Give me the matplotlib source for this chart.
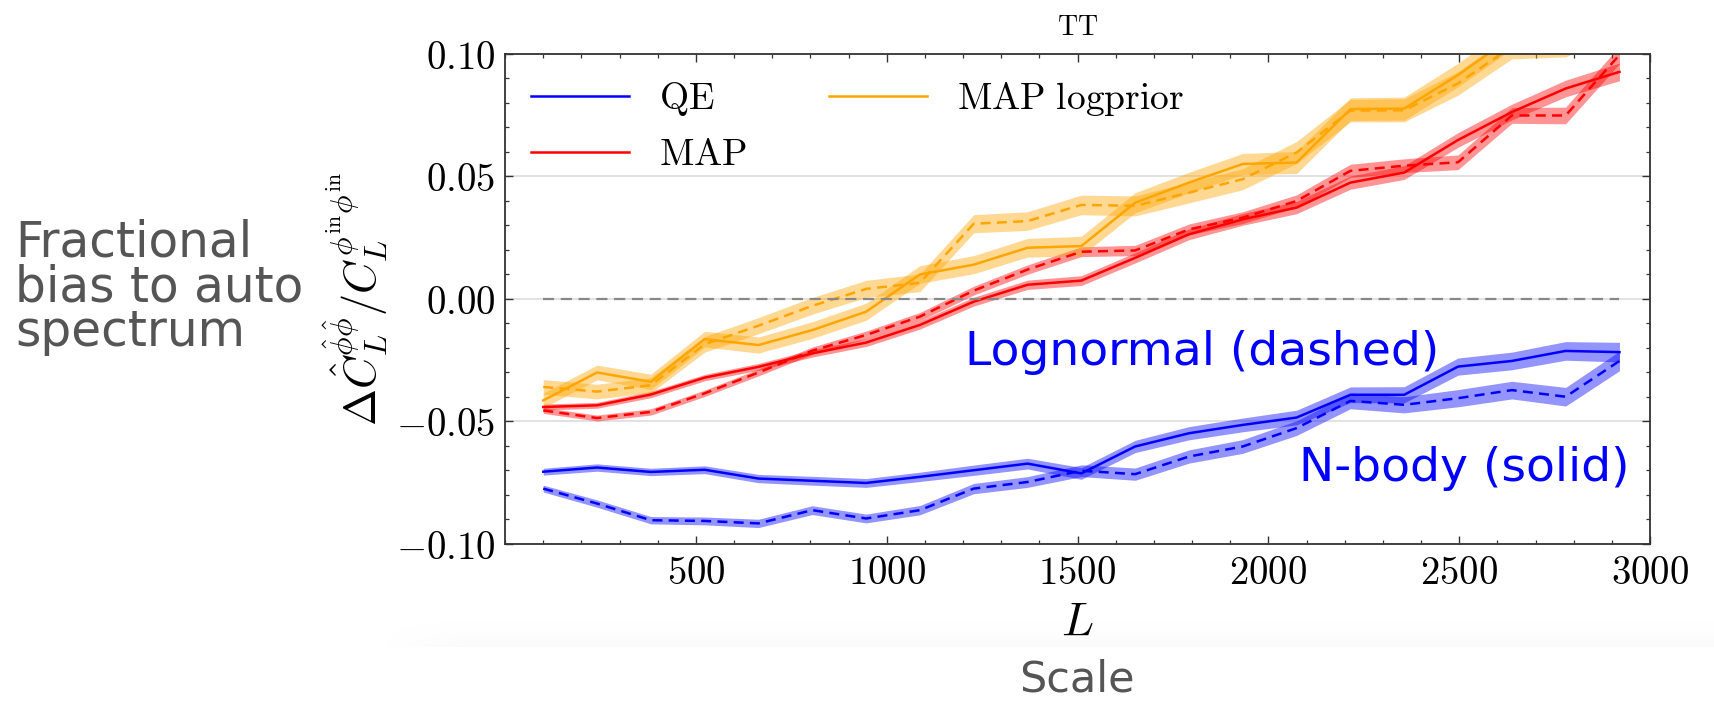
import numpy as np
import matplotlib.pyplot as plt
from matplotlib.ticker import MultipleLocator, FuncFormatter

plt.rcParams['mathtext.fontset'] = 'cm'
plt.rcParams['font.family'] = 'DejaVu Sans'

# multipole bin centres
ells = [100, 241, 382, 523, 664, 805, 946, 1087, 1228, 1369, 1510,
        1651, 1792, 1933, 2074, 2215, 2356, 2497, 2638, 2779, 2920]

# QE
qe_nbody = [-0.0705, -0.0688, -0.0706, -0.0697, -0.0733, -0.0742, -0.0751, -0.0726, -0.0699, -0.0672, -0.0712,
            -0.0602, -0.0548, -0.0514, -0.0484, -0.0391, -0.0391, -0.0276, -0.0253, -0.0212, -0.0217]
qe_logn = [-0.0774, -0.0835, -0.0903, -0.0906, -0.0916, -0.0862, -0.0896, -0.0862, -0.0774, -0.0747, -0.0701,
           -0.0715, -0.0643, -0.0602, -0.0527, -0.0416, -0.0432, -0.0405, -0.0372, -0.0399, -0.0253]
qe_err = [0.0014, 0.0015, 0.0015, 0.0016, 0.0017, 0.0018, 0.0018, 0.0019, 0.0021, 0.0022, 0.0024,
          0.0025, 0.0027, 0.0028, 0.0030, 0.0032, 0.0033, 0.0035, 0.0036, 0.0038, 0.0040]

# MAP
map_nbody = [-0.0441, -0.0434, -0.0390, -0.0321, -0.0277, -0.0222, -0.0178, -0.0106, -0.0011, 0.0058, 0.0075,
             0.0168, 0.0264, 0.0325, 0.0373, 0.0475, 0.0516, 0.0649, 0.0763, 0.0859, 0.0927]
map_logn = [-0.0455, -0.0486, -0.0461, -0.0385, -0.0300, -0.0211, -0.0147, -0.0072, 0.0034, 0.0120, 0.0193,
            0.0198, 0.0284, 0.0332, 0.0400, 0.0523, 0.0544, 0.0558, 0.0749, 0.0749, 0.0996]
map_err = [0.0012, 0.0012, 0.0013, 0.0013, 0.0014, 0.0015, 0.0016, 0.0017, 0.0018, 0.0019, 0.0020,
           0.0021, 0.0022, 0.0024, 0.0025, 0.0027, 0.0028, 0.0030, 0.0032, 0.0034, 0.0036]

# MAP logprior
mlp_nbody = [-0.0414, -0.0300, -0.0338, -0.0164, -0.0188, -0.0127, -0.0052, 0.0100, 0.0140, 0.0209, 0.0216,
             0.0393, 0.0475, 0.0551, 0.0557, 0.0775, 0.0777, 0.0914, 0.1070, 0.1090, 0.1180]
mlp_logn = [-0.0359, -0.0378, -0.0352, -0.0185, -0.0109, -0.0028, 0.0041, 0.0066, 0.0307, 0.0318, 0.0384,
            0.0380, 0.0434, 0.0489, 0.0598, 0.0769, 0.0770, 0.0880, 0.1030, 0.1040, 0.1150]
mlp_err = [0.0030, 0.0030, 0.0031, 0.0032, 0.0033, 0.0034, 0.0035, 0.0036, 0.0037, 0.0038, 0.0040,
           0.0041, 0.0042, 0.0043, 0.0045, 0.0046, 0.0047, 0.0048, 0.0050, 0.0052, 0.0054]

xticks = [500, 1000, 1500, 2000, 2500, 3000]
yticks = [-0.10, -0.05, 0.00, 0.05, 0.10]

fig = plt.figure(figsize=(17.15, 7.01), dpi=100)

# faint grey shading strip behind the x label (screenshot artefact), darkest at its bottom edge
bg = fig.add_axes([0.2216, 0.077, 0.7784, 0.046], zorder=-1)
grad = np.zeros((40, 200, 4))
grad[..., :3] = 0.80
ramp_y = np.linspace(0, 1, 40)[:, None] ** 2
ramp_x = np.clip(np.linspace(0, 1, 200)[None, :] / 0.06, 0, 1)
grad[..., 3] = 0.09 * ramp_y * ramp_x
bg.imshow(grad, aspect='auto', origin='upper', extent=[0, 1, 0, 1])
bg.set_axis_off()

ax = fig.add_axes([0.2945, 0.224, 0.6676, 0.699])

L = np.array(ells)
curves = [
    (qe_nbody, qe_err, 'blue', '-', r'$\mathrm{QE}$'),
    (qe_logn, qe_err, 'blue', (0, (4, 2.5)), None),
    (map_nbody, map_err, 'red', '-', r'$\mathrm{MAP}$'),
    (map_logn, map_err, 'red', (0, (4, 2.5)), None),
    (mlp_nbody, mlp_err, 'orange', '-', r'$\mathrm{MAP\ logprior}$'),
    (mlp_logn, mlp_err, 'orange', (0, (4, 2.5)), None),
]
for vals, err, col, ls, lab in curves:
    v = np.array(vals)
    e = np.array(err)
    ax.fill_between(L, v - e, v + e, color=col, alpha=0.42, lw=0)
    ax.plot(L, v, color=col, ls=ls, lw=1.8, label=lab)

ax.yaxis.grid(True, color='#dddddd', lw=1.2)
ax.set_axisbelow(True)
ax.hlines(0, L[0], L[-1], colors='#888888', linestyles=(0, (5, 3)), lw=1.6)

ax.set_xlim(0, 3000)
ax.set_ylim(-0.10, 0.10)
ax.set_xticks(xticks)
ax.set_yticks(yticks)
ax.xaxis.set_minor_locator(MultipleLocator(100))
ax.yaxis.set_minor_locator(MultipleLocator(0.01))
ax.xaxis.set_major_formatter(FuncFormatter(lambda v, p: r'$%d$' % v))
ax.yaxis.set_major_formatter(FuncFormatter(lambda v, p: r'$%.2f$' % v))
ax.tick_params(which='both', direction='in', top=True, right=True, labelsize=28, color='#333333')
ax.tick_params(which='major', length=6, width=1.0, pad=7)
ax.tick_params(which='minor', length=3, width=0.9)
for s in ax.spines.values():
    s.set_linewidth(1.3)
    s.set_color('#333333')

ax.set_title(r'$\mathrm{TT}$', fontsize=20, pad=14)
ax.set_xlabel(r'$L$', fontsize=34, labelpad=6)
ax.set_ylabel(r'$\Delta \hat{C}_L^{\hat{\phi}\hat{\phi}}/C_L^{\phi^{\rm in}\phi^{\rm in}}$', fontsize=32, labelpad=4)

ax.legend(loc='upper left', ncol=2, frameon=False, fontsize=27, handlelength=2.6,
          columnspacing=2.2, borderaxespad=0.3, handletextpad=0.8)

ax.text(0.402, 0.39, 'Lognormal (dashed)', transform=ax.transAxes, color='blue', fontsize=34,
        ha='left', va='center')
ax.text(0.982, 0.154, 'N-body (solid)', transform=ax.transAxes, color='blue', fontsize=34,
        ha='right', va='center')

fig.text(0.009, 0.59, 'Fractional\nbias to auto\nspectrum', color='#555555', fontsize=35,
         ha='left', va='center', linespacing=0.92)
fig.text(0.628, 0.030, 'Scale', color='#555555', fontsize=31, ha='center', va='center')

fig.savefig('out.png', dpi=100)
